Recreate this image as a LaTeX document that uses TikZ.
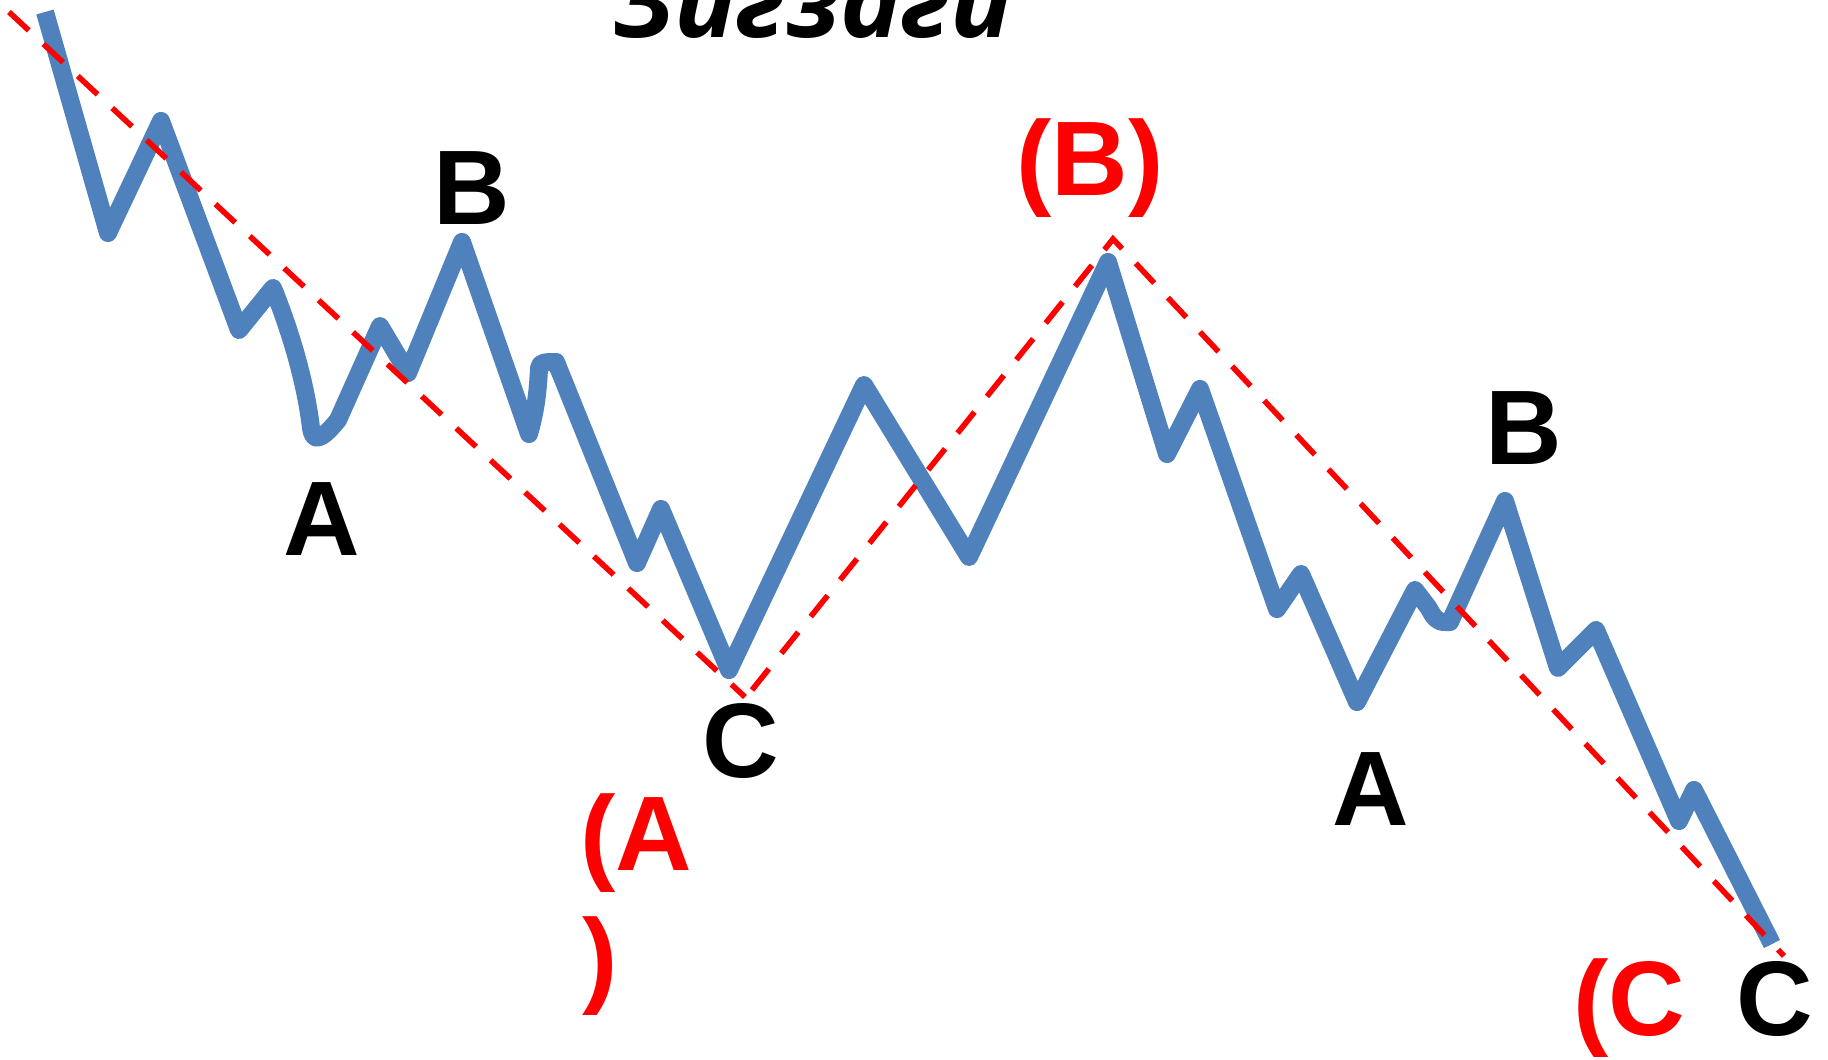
\documentclass[tikz,border=0pt]{standalone}
\usepackage{fontspec}
\setmainfont{Liberation Sans}
\newfontfamily\titlefont{Open Sans}
\definecolor{waveblue}{RGB}{79,129,189}
\definecolor{trendred}{RGB}{255,0,0}
\begin{document}
\begin{tikzpicture}[x=0.5pt,y=-0.5pt,
  wave/.style={draw=waveblue,line width=9pt,line join=round,line cap=butt},
  trend/.style={draw=trendred,line width=2.8pt,dash pattern=on 13.5pt off 10pt},
  lbl/.style={font=\fontsize{53}{64}\selectfont\bfseries,inner sep=0pt,anchor=base},
  redlbl/.style={lbl,text=trendred}]
\useasboundingbox (0,0) rectangle (1828,1060);
\clip (0,0) rectangle (1828,1060);
% title (cut off at the top)
\node[font=\titlefont\fontsize{51.5}{60}\selectfont\bfseries\itshape,inner sep=0pt,anchor=base] (title) at (813,38) {Зигзаги};
% price wave
\draw[wave] (45,12) -- (108,233) -- (161,121) -- (239,330) -- (273,288)
  .. controls (292,335) and (306,385) .. (311,428)
  .. controls (313,442) and (320,442) .. (338,420)
  -- (380,326) -- (408,373) -- (462,242) -- (529,434)
  .. controls (536,410) and (538,390) .. (539,368)
  .. controls (540,362) and (545,362) .. (556,362)
  -- (637,563) -- (661,509) -- (729,670) -- (864,385) -- (969,557)
  -- (1108,262) -- (1167,454) -- (1200,389) -- (1277,609) -- (1301,574)
  -- (1357,702) -- (1415,590) -- (1428,607)
  .. controls (1434,617) and (1436,622) .. (1445,622) -- (1450,622)
  -- (1505,501) -- (1558,668) -- (1596,630) -- (1679,821) -- (1694,790)
  -- (1772,944);
% trend lines
\coordinate (t0) at (9,12);
\coordinate (t1) at (745,697);
\coordinate (t2) at (752,690);
\coordinate (t3) at (1113,239);
\coordinate (t4) at (1784,956);
\draw[trend] (t0) -- (t1);
\draw[trend] (t2) -- (t3) -- (t4);
% labels
\node[lbl] (a1) at (322,555) {A};
\node[lbl] (b1) at (472,224) {B};
\node[lbl] (c1) at (741,777) {C};
\node[redlbl,anchor=base west] (pa1) at (580,870) {(A};
\node[redlbl,anchor=base west] (pa2) at (582,993) {)};
\node[redlbl] (pb) at (1090,195) {(B)};
\node[lbl] (a2) at (1371,825) {A};
\node[lbl] (b2) at (1524,464) {B};
\node[redlbl,anchor=base west] (pc) at (1573,1035) {(C};
\node[lbl] (c2) at (1775,1035) {C};
\end{tikzpicture}
\end{document}
